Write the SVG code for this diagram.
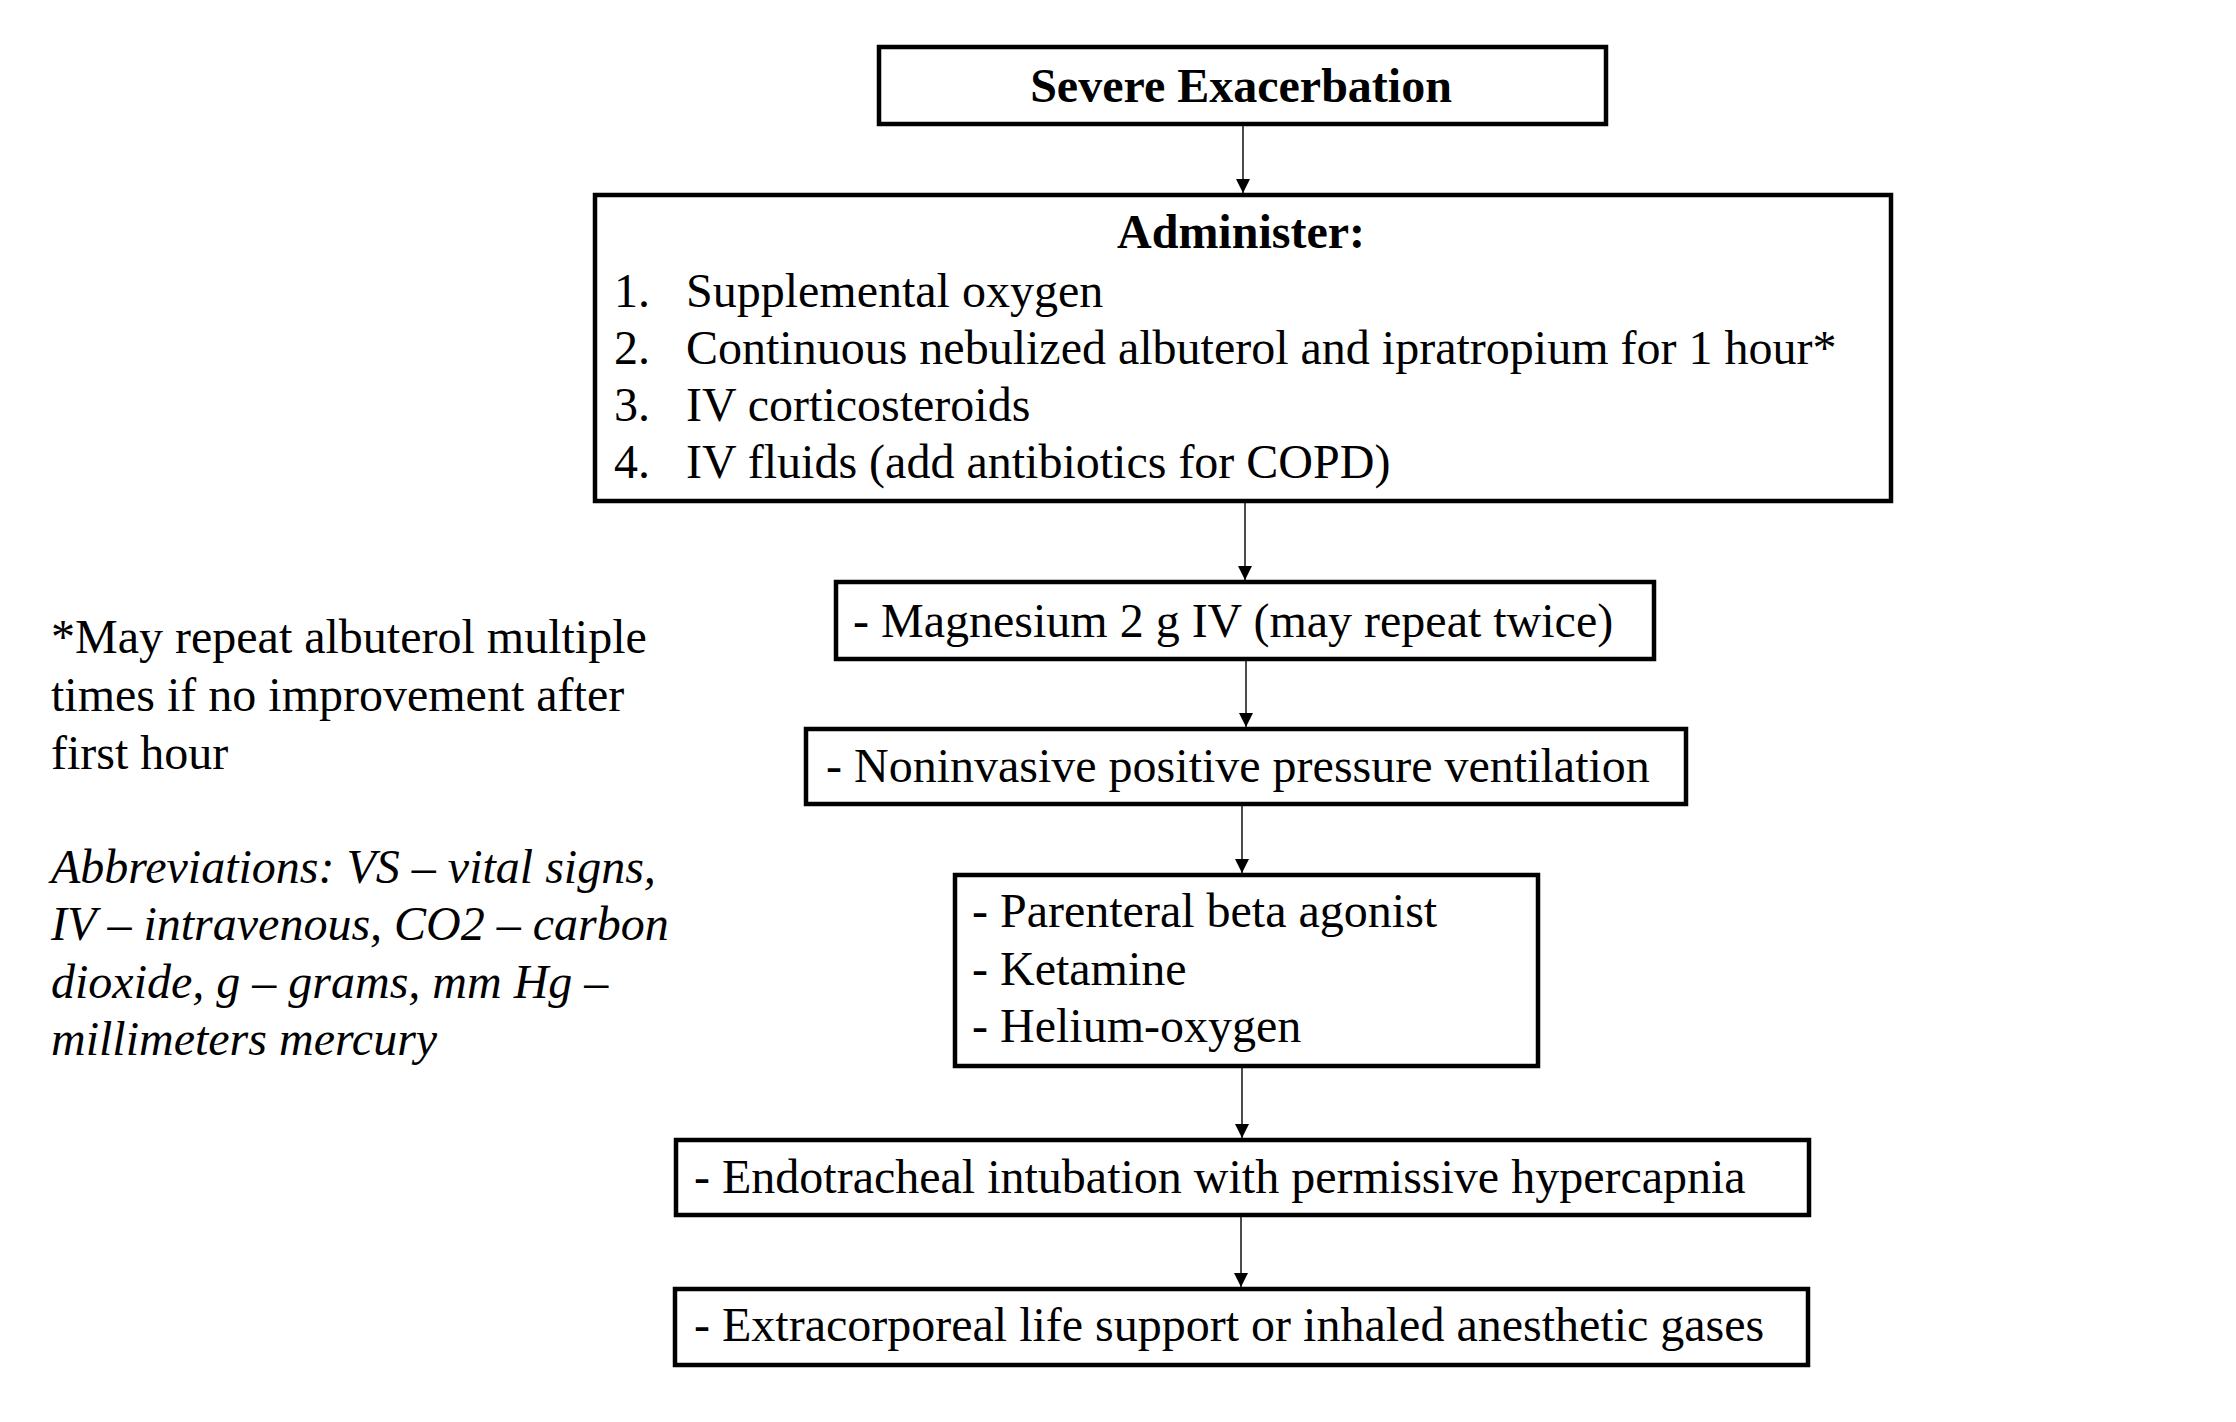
<svg xmlns="http://www.w3.org/2000/svg" width="2236" height="1422" viewBox="0 0 2236 1422">
<style>
.box{fill:#fff;stroke:#000;stroke-width:4.5}
.t{font-family:"Liberation Serif","Times New Roman",serif;font-size:48px;fill:#000}
.b{font-weight:bold}
.i{font-style:italic}
.c{stroke:#000;stroke-width:1.4;fill:none}
</style>
<defs>
<marker id="ah" markerUnits="userSpaceOnUse" markerWidth="16" markerHeight="16" refX="14" refY="7" orient="auto">
<path d="M0,0 L14,7 L0,14 Z" fill="#000"/>
</marker>
</defs>
<rect width="2236" height="1422" fill="#fff"/>
<g id="connectors">
<line class="c" x1="1243" y1="126" x2="1243" y2="193" marker-end="url(#ah)"/>
<line class="c" x1="1245" y1="503" x2="1245" y2="580" marker-end="url(#ah)"/>
<line class="c" x1="1246" y1="661" x2="1246" y2="727" marker-end="url(#ah)"/>
<line class="c" x1="1242" y1="806" x2="1242" y2="873" marker-end="url(#ah)"/>
<line class="c" x1="1242" y1="1068" x2="1242" y2="1138" marker-end="url(#ah)"/>
<line class="c" x1="1241" y1="1217" x2="1241" y2="1287" marker-end="url(#ah)"/>
</g>
<g id="severe">
<rect class="box" x="879" y="47" width="727" height="77"/>
<text class="t b" x="1241" y="102" text-anchor="middle">Severe Exacerbation</text>
</g>
<g id="administer">
<rect class="box" x="595" y="195" width="1296" height="306"/>
<text class="t b" x="1241" y="248" text-anchor="middle">Administer:</text>
<text class="t" x="614" y="307">1.</text><text class="t" x="686" y="307">Supplemental oxygen</text>
<text class="t" x="614" y="364">2.</text><text class="t" x="686" y="364">Continuous nebulized albuterol and ipratropium for 1 hour*</text>
<text class="t" x="614" y="421">3.</text><text class="t" x="686" y="421">IV corticosteroids</text>
<text class="t" x="614" y="478">4.</text><text class="t" x="686" y="478">IV fluids (add antibiotics for COPD)</text>
</g>
<g id="magnesium">
<rect class="box" x="836" y="582" width="818" height="77"/>
<text class="t" x="853" y="637">- Magnesium 2 g IV (may repeat twice)</text>
</g>
<g id="nippv">
<rect class="box" x="806" y="729" width="880" height="75"/>
<text class="t" x="826" y="782">- Noninvasive positive pressure ventilation</text>
</g>
<g id="adjuncts">
<rect class="box" x="955" y="875" width="583" height="191"/>
<text class="t" x="972" y="927">- Parenteral beta agonist</text>
<text class="t" x="972" y="985">- Ketamine</text>
<text class="t" x="972" y="1042">- Helium-oxygen</text>
</g>
<g id="intubation">
<rect class="box" x="676" y="1140" width="1133" height="75"/>
<text class="t" x="694" y="1193">- Endotracheal intubation with permissive hypercapnia</text>
</g>
<g id="ecls">
<rect class="box" x="675" y="1289" width="1133" height="76"/>
<text class="t" x="694" y="1341">- Extracorporeal life support or inhaled anesthetic gases</text>
</g>
<g id="notes">
<text class="t" x="51" y="653">*May repeat albuterol multiple</text>
<text class="t" x="51" y="711">times if no improvement after</text>
<text class="t" x="51" y="769">first hour</text>
<text class="t i" x="51" y="883">Abbreviations: VS – vital signs,</text>
<text class="t i" x="51" y="940">IV – intravenous, CO2 – carbon</text>
<text class="t i" x="51" y="998">dioxide, g – grams, mm Hg –</text>
<text class="t i" x="51" y="1055">millimeters mercury</text>
</g>
</svg>
